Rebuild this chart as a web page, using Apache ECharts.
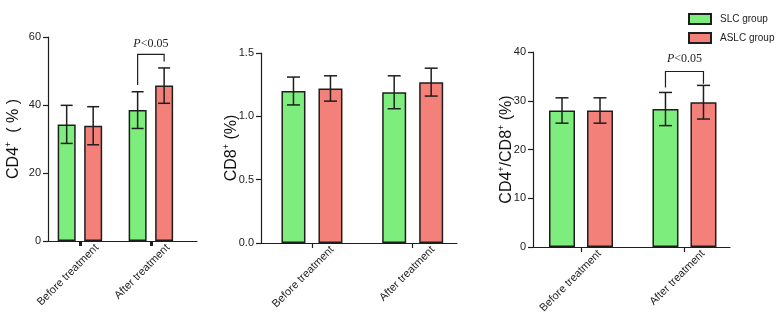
<!DOCTYPE html>
<html>
<head>
<meta charset="utf-8">
<script src="https://cdn.jsdelivr.net/npm/echarts@6/dist/echarts.min.js"></script>
<style>html,body{margin:0;padding:0;background:#fff;}#c{width:779px;height:325px;}</style>
</head>
<body>
<div id="c"></div>
<script>
// ---- data ----
const categories = ['Before treatment', 'After treatment'];
const seriesNames = ['SLC group', 'ASLC group'];

const cd4SLC = [34.3, 38.5];
const cd4SLCsd = [5.6, 5.4];
const cd4ASLC = [33.9, 45.7];
const cd4ASLCsd = [5.6, 5.2];
const cd4Ticks = [0, 20, 40, 60];
const cd4Bracket = [54.9, 45.9, 52.8, 57.9]; // top, left end, right end, label level

const cd8SLC = [1.20, 1.19];
const cd8SLCsd = [0.11, 0.13];
const cd8ASLC = [1.22, 1.27];
const cd8ASLCsd = [0.10, 0.11];
const cd8Ticks = [0, 0.5, 1.0, 1.5];

const ratioSLC = [28.0, 28.3];
const ratioSLCsd = [2.6, 3.4];
const ratioASLC = [28.0, 29.7];
const ratioASLCsd = [2.6, 3.45];
const ratioTicks = [0, 10, 20, 30, 40];
const ratioBracket = [36.0, 32.7, 33.5, 38.5];

const pLabel = 'P<0.05';

// ---- layout ----
const GREEN = '#7DEE7D';
const RED = '#F4807A';
const DARK = '#1e1e1e';

const panels = [
  { grid: {left: 48, top: 37, width: 149, height: 204}, xMin: -0.45, xMax: 1.65, barW: 18, gap: 8.5, capW: 12, labShift: 0.24,
    ticks: cd4Ticks, fmt: v => String(v), nameRich: '{a|CD4}{s|+}{a|  ( % )}', nameGap: 25, tickW: 3,
    slc: cd4SLC, slcSd: cd4SLCsd, aslc: cd4ASLC, aslcSd: cd4ASLCsd, bracket: cd4Bracket },
  { grid: {left: 261, top: 53, width: 196, height: 190}, xMin: -0.506, xMax: 1.44, barW: 24, gap: 13, capW: 13, labShift: 0.2,
    ticks: cd8Ticks, fmt: v => v.toFixed(1), nameRich: '{a|CD8}{s|+}{a| (%)}', nameGap: 20, tickW: 1.2,
    slc: cd8SLC, slcSd: cd8SLCsd, aslc: cd8ASLC, aslcSd: cd8ASLCsd, bracket: null },
  { grid: {left: 533, top: 52, width: 197, height: 195}, xMin: -0.464, xMax: 1.44, barW: 26, gap: 12, capW: 13, labShift: 0.18,
    ticks: ratioTicks, fmt: v => String(v), nameRich: '{a|CD4}{s|+}{a|/CD8}{s|+}{a| (%)}', nameGap: 17, tickW: 1.2,
    slc: ratioSLC, slcSd: ratioSLCsd, aslc: ratioASLC, aslcSd: ratioASLCsd, bracket: ratioBracket }
];

const grids = [], xAxes = [], yAxes = [], series = [];

panels.forEach((p, i) => {
  grids.push(Object.assign({containLabel: false}, p.grid));
  xAxes.push({
    type: 'value', gridIndex: i, min: p.xMin, max: p.xMax,
    splitLine: {show: false},
    axisLine: {show: true, onZero: false, lineStyle: {color: DARK, width: 1.2}},
    axisTick: {show: true, customValues: [0, 1], length: 5, lineStyle: {color: DARK, width: p.tickW}},
    axisLabel: {show: true, customValues: [p.labShift, 1 + p.labShift],
      formatter: v => categories[Math.round(v - p.labShift)] || '',
      rotate: 45, fontSize: 11, color: '#222', fontFamily: 'Liberation Sans, Arial', margin: 5}
  });
  const t = p.ticks;
  yAxes.push({
    type: 'value', gridIndex: i, min: t[0], max: t[t.length - 1], interval: t[1] - t[0],
    splitLine: {show: false},
    axisLine: {show: true, onZero: false, lineStyle: {color: DARK, width: 1.2}},
    axisTick: {show: true, length: 5, lineStyle: {color: DARK, width: 1.2}},
    axisLabel: {color: '#222', fontSize: 11, fontFamily: 'Liberation Sans, Arial', formatter: p.fmt, margin: 7},
    name: p.nameRich, nameLocation: 'middle', nameGap: p.nameGap, nameRotate: 90, nameMoveOverlap: false,
    nameTextStyle: {
      rich: {
        a: {fontSize: 16, color: '#111', fontFamily: 'Liberation Sans, Arial'},
        s: {fontSize: 9, color: '#111', fontFamily: 'Liberation Sans, Arial', padding: [0, 0, 10, 0]}
      }
    }
  });

  const off = (p.barW + p.gap) / 2;
  const groups = [[p.slc, p.slcSd, GREEN, -off, seriesNames[0]], [p.aslc, p.aslcSd, RED, off, seriesNames[1]]];
  groups.forEach(g => {
    series.push({
      type: 'bar', name: g[4], xAxisIndex: i, yAxisIndex: i,
      data: g[0].map((v, k) => [k, v]),
      barWidth: p.barW, barGap: (p.gap / p.barW * 100) + '%',
      itemStyle: {color: g[2], borderColor: DARK, borderWidth: 1.5},
      emphasis: {disabled: true}, animation: false
    });
  });
  groups.forEach(g => {
    series.push({
      type: 'custom', name: g[4] + ' SD', xAxisIndex: i, yAxisIndex: i, z: 5,
      data: g[0].map((v, k) => [k, v, g[1][k]]),
      encode: {x: 0, y: 1},
      renderItem: (params, api) => {
        const x = api.value(0), m = api.value(1), s = api.value(2);
        const hi = api.coord([x, m + s]), lo = api.coord([x, m - s]);
        const cx = hi[0] + g[3], hw = p.capW / 2;
        const st = {stroke: DARK, lineWidth: 1.5};
        return {type: 'group', children: [
          {type: 'line', shape: {x1: cx, y1: hi[1], x2: cx, y2: lo[1]}, style: st},
          {type: 'line', shape: {x1: cx - hw, y1: hi[1], x2: cx + hw, y2: hi[1]}, style: st},
          {type: 'line', shape: {x1: cx - hw, y1: lo[1], x2: cx + hw, y2: lo[1]}, style: st}
        ]};
      },
      animation: false, silent: true
    });
  });

  if (p.bracket) {
    series.push({
      type: 'custom', name: 'bracket', xAxisIndex: i, yAxisIndex: i, z: 6,
      data: [[1].concat(p.bracket)],
      encode: {x: 0, y: 1},
      renderItem: (params, api) => {
        const x = api.value(0);
        const top = api.coord([x, api.value(1)]);
        const le = api.coord([x, api.value(2)]);
        const re = api.coord([x, api.value(3)]);
        const lab = api.coord([x, api.value(4)]);
        const xl = top[0] - off, xr = top[0] + off;
        const st = {stroke: DARK, lineWidth: 1.2, fill: null};
        return {type: 'group', children: [
          {type: 'polyline', shape: {points: [[xl, le[1]], [xl, top[1]], [xr, top[1]], [xr, re[1]]]}, style: st},
          {type: 'text', x: top[0], y: lab[1], style: {
            text: '{i|' + pLabel.charAt(0) + '}{n|' + pLabel.slice(1) + '}',
            align: 'center', verticalAlign: 'middle',
            rich: {
              i: {fontStyle: 'italic', fontFamily: 'Liberation Serif, Times New Roman', fontSize: 12, fill: '#222'},
              n: {fontFamily: 'Liberation Serif, Times New Roman', fontSize: 12, fill: '#222'}
            }
          }}
        ]};
      },
      animation: false, silent: true
    });
  }
});

const chart = echarts.init(document.getElementById('c'), null, {renderer: 'canvas'});
chart.setOption({
  backgroundColor: '#fff',
  animation: false,
  grid: grids,
  xAxis: xAxes,
  yAxis: yAxes,
  legend: {
    data: seriesNames, orient: 'vertical', left: 688, top: 13, padding: 0,
    icon: 'rect', itemWidth: 22, itemHeight: 10, itemGap: 7,
    textStyle: {fontSize: 10, color: '#222', fontFamily: 'Liberation Sans, Arial', padding: [0, 0, 0, 4]},
    selectedMode: false
  },
  series: series
});
</script>
</body>
</html>
